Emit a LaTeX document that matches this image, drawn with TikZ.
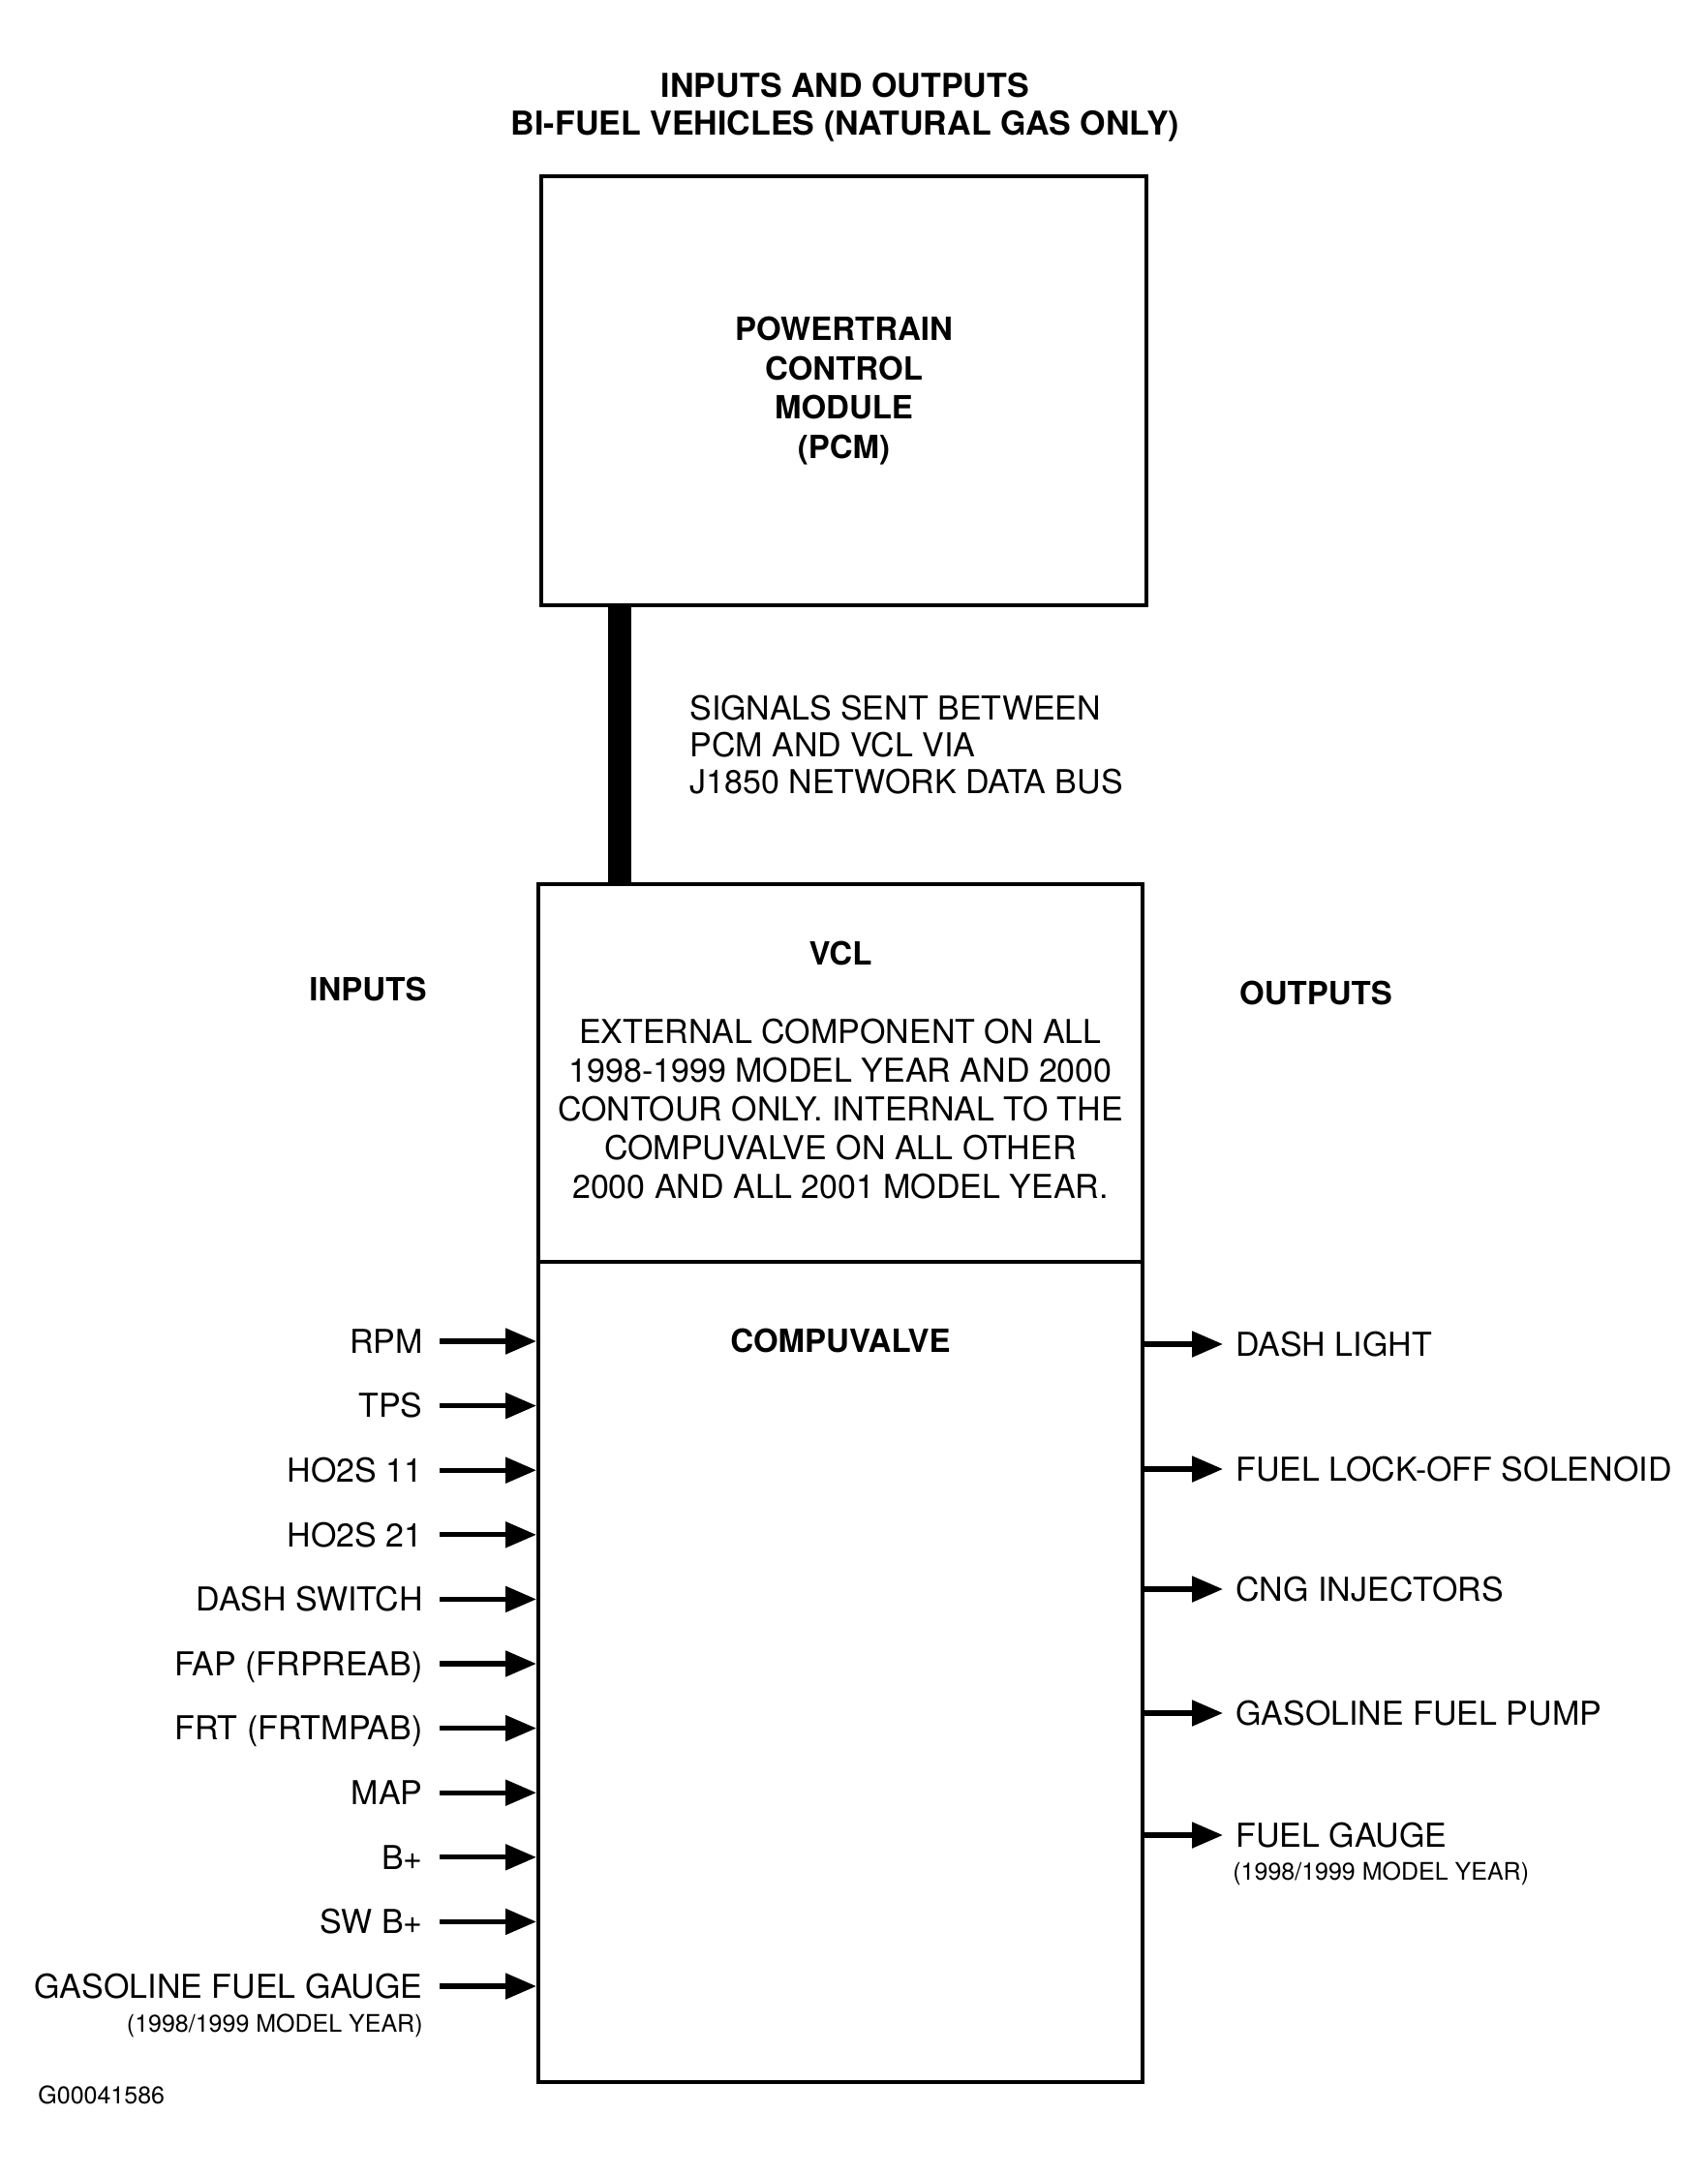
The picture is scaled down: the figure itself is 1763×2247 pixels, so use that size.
\documentclass[tikz,border=0pt]{standalone}
\usepackage{fontspec}
\setmainfont{TeX Gyre Heros}
\usetikzlibrary{arrows.meta}
\begin{document}
\begin{tikzpicture}[x=0.5pt,y=-0.5pt,
  box/.style={draw, line width=2pt, inner sep=0pt},
  lbl/.style={inner sep=0pt, font=\fontsize{17}{20}\selectfont, text height=12.2pt, text depth=0pt},
  blbl/.style={inner sep=0pt, font=\fontsize{16.5}{20.5}\selectfont\bfseries, text height=11.8pt, text depth=0pt},
  small/.style={inner sep=0pt, font=\fontsize{12.5}{15}\selectfont, text height=9pt, text depth=0pt},
  multi/.style={inner sep=0pt, align=center},
  sig/.style={line width=2.6pt, -{Triangle[length=16pt,width=13pt]}},
  bus/.style={line width=12pt},
]
\useasboundingbox (0,0) rectangle (1763,2247);

% title (base anchor = baseline of last line)
\node[multi, anchor=base, font=\fontsize{17}{19.5}\selectfont\bfseries] (title) at (873,140)
  {INPUTS AND OUTPUTS\\BI-FUEL VEHICLES (NATURAL GAS ONLY)};

% PCM
\node[box, minimum width=312.5pt, minimum height=221.5pt, align=center,
  font=\fontsize{16.5}{20.4}\selectfont\bfseries] (pcm) at (871.5,403.5)
  {POWERTRAIN\\CONTROL\\MODULE\\(PCM)};

% VCL and compuvalve
\node[box, minimum width=312pt, minimum height=195pt] (vcl) at (868,1108) {};
\node[box, minimum width=312pt, minimum height=423.5pt] (cv) at (868,1726.5) {};

\coordinate (busx) at (640,0);
\draw[bus] (pcm.south -| busx) -- (vcl.north -| busx);

\node[multi, anchor=base west, align=left, font=\fontsize{17}{19}\selectfont] (sigtext) at (712,819)
  {SIGNALS SENT BETWEEN\\PCM AND VCL VIA\\J1850 NETWORK DATA BUS};

\node[blbl] (vcltitle) at (868,985) {VCL};
\node[multi, anchor=base, font=\fontsize{17}{20}\selectfont] (vcltext) at (868,1237)
  {EXTERNAL COMPONENT ON ALL\\1998-1999 MODEL YEAR AND 2000\\CONTOUR ONLY. INTERNAL TO THE\\COMPUVALVE ON ALL OTHER\\2000 AND ALL 2001 MODEL YEAR.};
\node[blbl] (cvtitle) at (868,1385) {COMPUVALVE};

\node[blbl] (inputs) at (380,1022) {INPUTS};
\node[blbl] (outputs) at (1359,1026) {OUTPUTS};

% inputs
\foreach \n/\t/\y in {i1/RPM/1385, i2/TPS/1451.6, i3/HO2S 11/1518.2, i4/HO2S 21/1584.8,
  i5/DASH SWITCH/1651.4, i6/FAP (FRPREAB)/1718, i7/FRT (FRTMPAB)/1784.6, i8/MAP/1851.2,
  i9/B+/1917.8, i10/SW B+/1984.4, i11/GASOLINE FUEL GAUGE/2051}{
  \node[lbl, anchor=east] (\n) at (437,\y) {\t};
  \draw[sig] ([xshift=8.5pt]\n.east) -- (\n.east -| cv.west);
}
\node[small, anchor=east] (i11sub) at (437,2089) {(1998/1999 MODEL YEAR)};

% outputs
\foreach \n/\t/\y in {o1/DASH LIGHT/1388, o2/FUEL LOCK-OFF SOLENOID/1517, o3/CNG INJECTORS/1641,
  o4/GASOLINE FUEL PUMP/1769, o5/FUEL GAUGE/1895}{
  \node[lbl, anchor=west] (\n) at (1276,\y) {\t};
  \draw[sig] (\n.west -| cv.east) -- ([xshift=-6.5pt]\n.west);
}
\node[small, anchor=west] (o5sub) at (1273,1932) {(1998/1999 MODEL YEAR)};

\node[small, anchor=west] (fig) at (39,2163) {G00041586};
\end{tikzpicture}
\end{document}
